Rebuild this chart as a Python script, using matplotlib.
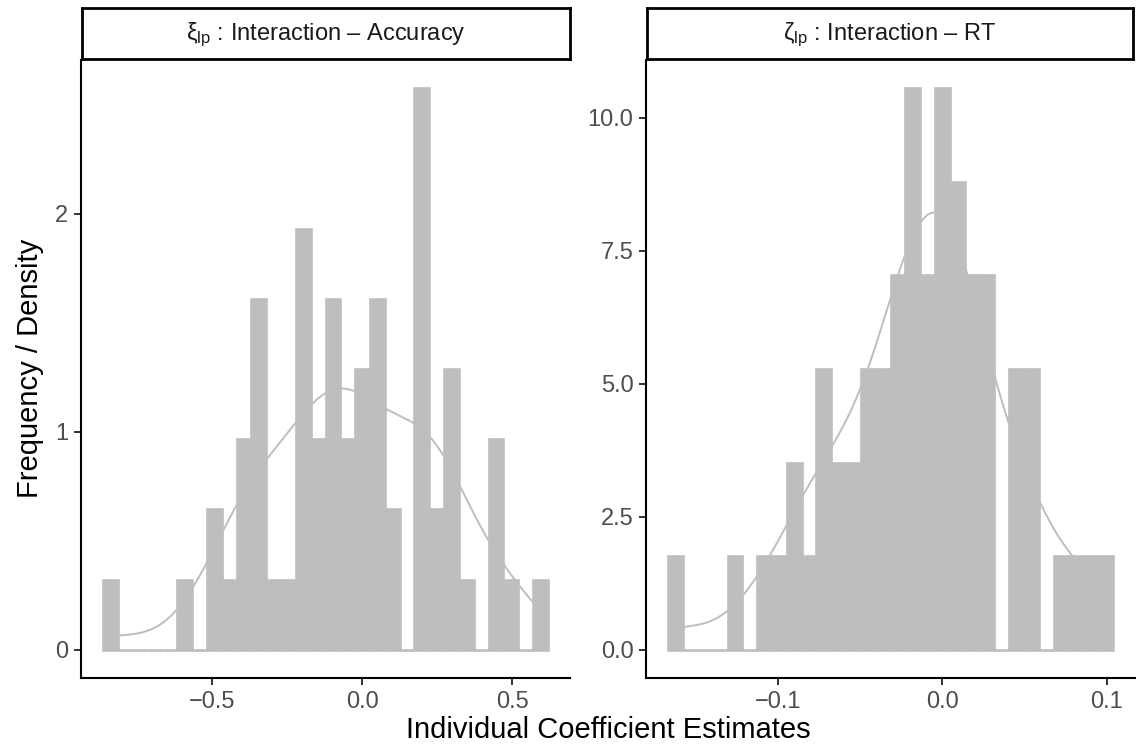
import numpy as np
import matplotlib
matplotlib.use("Agg")
import matplotlib.pyplot as plt

plt.rcParams["font.family"] = ["Liberation Sans", "DejaVu Sans"]
plt.rcParams["mathtext.fontset"] = "custom"
plt.rcParams["mathtext.rm"] = "Liberation Sans"
plt.rcParams["mathtext.it"] = "Liberation Sans:italic"

# ---- data: histogram counts (30 bins) of individual coefficient estimates ----
acc_title = r"$\mathregular{\xi_{lp}}$ : Interaction – Accuracy"
acc_bin_start = -0.8616
acc_bin_width = 0.04931
acc_counts = [1, 0, 0, 0, 0, 1, 0, 2, 1, 3, 5, 1, 1, 6, 3, 5, 3, 4, 5, 2,
              0, 8, 2, 4, 1, 0, 3, 1, 0, 1]
acc_xticks = [-0.5, 0.0, 0.5]
acc_xticklabels = ["\u22120.5", "0.0", "0.5"]
acc_yticks = [0, 1, 2]
acc_yticklabels = ["0", "1", "2"]

rt_title = r"$\mathregular{\zeta_{lp}}$ : Interaction – RT"
rt_bin_start = -0.1670
rt_bin_width = 0.009023
rt_counts = [1, 0, 0, 0, 1, 0, 1, 1, 2, 1, 3, 2, 2, 3, 3, 4, 6, 4, 6, 5,
             4, 4, 0, 3, 3, 0, 1, 1, 1, 1]
rt_xticks = [-0.1, 0.0, 0.1]
rt_xticklabels = ["\u22120.1", "0.0", "0.1"]
rt_yticks = [0.0, 2.5, 5.0, 7.5, 10.0]
rt_yticklabels = ["0.0", "2.5", "5.0", "7.5", "10.0"]

x_title = "Individual Coefficient Estimates"
y_title = "Frequency / Density"

GREY = "#BEBEBE"
W, H = 1139, 748
fig = plt.figure(figsize=(W / 100, H / 100), dpi=100)


def px_box(x0, y0, x1, y1):
    """Convert pixel box (top-left origin) to figure fraction rect."""
    return [x0 / W, 1 - y1 / H, (x1 - x0) / W, (y1 - y0) / H]


def nrd0(values):
    sd = np.std(values, ddof=1)
    q75, q25 = np.percentile(values, [75, 25])
    lo = min(sd, (q75 - q25) / 1.34)
    return 0.9 * lo * len(values) ** (-0.2)


def panel(rect, strip_rect, title, start, width, counts, xt, xtl, yt, ytl):
    counts = np.asarray(counts, dtype=float)
    n = counts.sum()
    edges = start + width * np.arange(len(counts) + 1)
    centers = 0.5 * (edges[:-1] + edges[1:])
    dens = counts / (n * width)

    ax = fig.add_axes(rect)
    ax.bar(centers, dens, width=width, color=GREY, edgecolor=GREY,
           linewidth=1.9, joinstyle="miter", zorder=2)

    # kernel density estimate of the same sample
    sample = np.repeat(centers, counts.astype(int))
    bw = nrd0(sample)
    gx = np.linspace(sample.min(), sample.max(), 512)
    gy = np.exp(-0.5 * ((gx[:, None] - sample[None, :]) / bw) ** 2).sum(1)
    gy /= n * bw * np.sqrt(2 * np.pi)
    ax.plot(gx, gy, color=GREY, lw=1.4, zorder=3)

    xr = edges[-1] - edges[0]
    ax.set_xlim(edges[0] - 0.05 * xr, edges[-1] + 0.05 * xr)
    top = max(dens.max(), gy.max())
    ax.set_ylim(-0.05 * top, 1.05 * top)

    ax.set_xticks(xt)
    ax.set_xticklabels(xtl)
    ax.set_yticks(yt)
    ax.set_yticklabels(ytl)
    for s in ["top", "right"]:
        ax.spines[s].set_visible(False)
    for s in ["left", "bottom"]:
        ax.spines[s].set_linewidth(1.5)
        ax.spines[s].set_color("black")
    ax.tick_params(axis="both", length=5, width=1.4, color="#333333",
                   labelcolor="#4D4D4D", labelsize=17, pad=4)

    sax = fig.add_axes(strip_rect)
    sax.set_xticks([])
    sax.set_yticks([])
    for s in sax.spines.values():
        s.set_linewidth(2.0)
        s.set_color("black")
    sax.text(0.5, 0.48, title, ha="center", va="center", fontsize=17,
             color="#1A1A1A", transform=sax.transAxes)
    return ax


panel(px_box(81, 60, 570, 678), px_box(82, 8, 570, 59), acc_title,
      acc_bin_start, acc_bin_width, acc_counts,
      acc_xticks, acc_xticklabels, acc_yticks, acc_yticklabels)
panel(px_box(646, 60, 1135, 678), px_box(647, 8, 1133, 59), rt_title,
      rt_bin_start, rt_bin_width, rt_counts,
      rt_xticks, rt_xticklabels, rt_yticks, rt_yticklabels)

fig.text(608 / W, 1 - 730 / H, x_title, ha="center", va="center",
         fontsize=21, color="black")
fig.text(30 / W, 1 - 368 / H, y_title, ha="center", va="center",
         rotation=90, fontsize=21, color="black")

fig.savefig("out.png", dpi=100)
